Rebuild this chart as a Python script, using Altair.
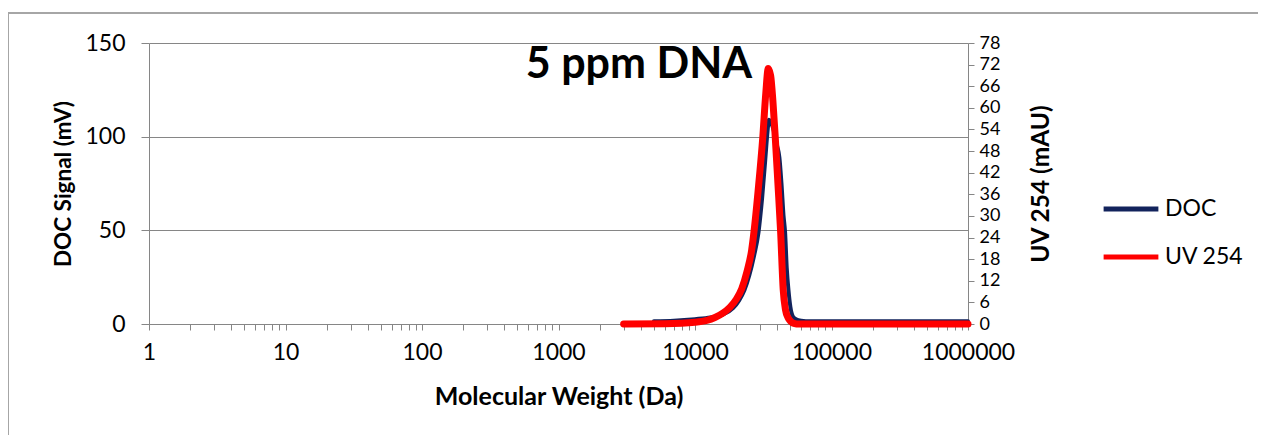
import altair as alt
import pandas as pd

# ---- data ----
doc_mw = [5000, 7000, 10000, 13000, 16000, 19000, 21000, 23000, 25000, 27000, 29200,
          31000, 32700, 34000, 34800, 35800, 37500, 40000, 41500, 43000, 44500, 45700,
          47000, 48400, 50000, 52100, 55000, 60000, 70000, 1000000]
doc_mv = [1.5, 1.8, 2.6, 3.5, 5.0, 8.5, 12.5, 18.0, 26.0, 36.0, 49.0,
          67.0, 87.5, 103.0, 109.0, 108.0, 104.0, 95.0, 89.0, 75.0, 58.0, 49.0,
          30.0, 18.0, 9.0, 4.0, 2.5, 1.8, 1.5, 1.5]

uv_mw = [3000, 6000, 10000, 12200, 14000, 16000, 18000, 20000, 22000, 24000, 26000,
         27050, 29000, 31400, 33000, 34400, 35800, 37200, 38700, 40500, 42400, 44300,
         46000, 48000, 50000, 53000, 58000, 1000000]
uv_mau = [0.0, 0.1, 0.5, 1.0, 1.8, 3.0, 4.6, 6.8, 9.8, 14.5, 20.5,
          25.6, 37.0, 52.0, 64.0, 70.9, 69.0, 62.0, 52.0, 39.0, 25.6, 9.4,
          4.0, 1.8, 0.8, 0.2, 0.0, 0.0]

series_names = ["DOC", "UV 254"]
series_colors = ["#12235c", "#ff0000"]
series_widths = [4, 7]

x_ticks = [k * 10 ** d for d in range(6) for k in range(1, 10)] + [10 ** 6]
left_ticks = [0, 50, 100, 150]
right_ticks = list(range(0, 79, 6))

title_text = "5 ppm DNA"

doc_df = pd.DataFrame({"mw": doc_mw, "val": doc_mv, "series": "DOC"})
uv_df = pd.DataFrame({"mw": uv_mw, "val": uv_mau, "series": "UV 254"})

FONT = "Lato"
GRAY = "#868686"

x_enc = alt.X(
    "mw:Q",
    scale=alt.Scale(type="log", domain=[1, 1000000]),
    axis=alt.Axis(
        title="Molecular Weight (Da)",
        values=x_ticks,
        labelExpr="abs(log(datum.value)/LN10 - round(log(datum.value)/LN10)) < 0.000001 ? format(datum.value, 'd') : ''",
        labelOverlap=False,
        labelBound=False,
        labelFlush=False,
        grid=False,
        tickSize=6,
        tickColor=GRAY,
        domainColor=GRAY,
        labelFontSize=23,
        labelPadding=11,
        titleFontSize=25,
        titleFontWeight="bold",
        titlePadding=20,
    ),
)

color_enc = alt.Color(
    "series:N",
    scale=alt.Scale(domain=series_names, range=series_colors),
    legend=alt.Legend(
        title=None,
        orient="none",
        legendX=952,
        legendY=136,
        symbolType="stroke",
        symbolSize=3000,
        symbolStrokeWidth=5,
        labelFontSize=23,
        labelFont=FONT,
        labelColor="#000000",
        rowPadding=6,
        labelOffset=4,
    ),
)

doc_line = alt.Chart(doc_df).mark_line(
    strokeWidth=series_widths[0], interpolate="monotone", strokeCap="round"
).encode(
    x=x_enc,
    y=alt.Y(
        "val:Q",
        scale=alt.Scale(domain=[0, 150]),
        axis=alt.Axis(
            title="DOC Signal (mV)",
            values=left_ticks,
            grid=True,
            gridColor=GRAY,
            tickSize=8,
            tickColor=GRAY,
            domainColor=GRAY,
            labelFontSize=23,
            labelPadding=16,
            titleFontSize=22.5,
            titleFontWeight="bold",
            titlePadding=9,
        ),
    ),
    color=color_enc,
)

uv_line = alt.Chart(uv_df).mark_line(
    strokeWidth=series_widths[1], interpolate="monotone", strokeCap="round"
).encode(
    x=x_enc,
    y=alt.Y(
        "val:Q",
        scale=alt.Scale(domain=[0, 78]),
        axis=alt.Axis(
            orient="right",
            title="UV 254 (mAU)",
            values=right_ticks,
            grid=False,
            tickSize=6,
            tickColor=GRAY,
            domainColor=GRAY,
            labelFontSize=18,
            labelPadding=5,
            titleFontSize=24.5,
            titleFontWeight="bold",
            titleAngle=270,
            titlePadding=54,
        ),
    ),
    color=color_enc,
)

one = alt.Data(values=[{"a": 1}])

title_mark = alt.Chart(one).mark_text(
    text=title_text, font=FONT, fontSize=43, fontWeight="bold",
    align="center", baseline="middle", color="#000000",
).encode(x=alt.value(490), y=alt.value(22))

border_top = alt.Chart(one).mark_rule(color="#a6a6a6", strokeWidth=2).encode(
    x=alt.value(-141), x2=alt.value(1117), y=alt.value(-30)
)
border_left = alt.Chart(one).mark_rule(color="#a6a6a6", strokeWidth=2).encode(
    x=alt.value(-141), y=alt.value(-30), y2=alt.value(400)
)

chart = (
    alt.layer(border_top, border_left, doc_line, uv_line, title_mark)
    .resolve_scale(y="independent")
    .properties(
        width=819,
        height=281,
        autosize=alt.AutoSizeParams(type="none"),
        padding={"left": 141, "top": 35, "right": 290, "bottom": 111},
    )
    .configure(font=FONT)
    .configure_view(strokeWidth=0)
    .configure_axis(labelColor="#000000", titleColor="#000000", labelFont=FONT, titleFont=FONT)
)

chart.save("out.html", embed_options={"renderer": "svg", "actions": False})
